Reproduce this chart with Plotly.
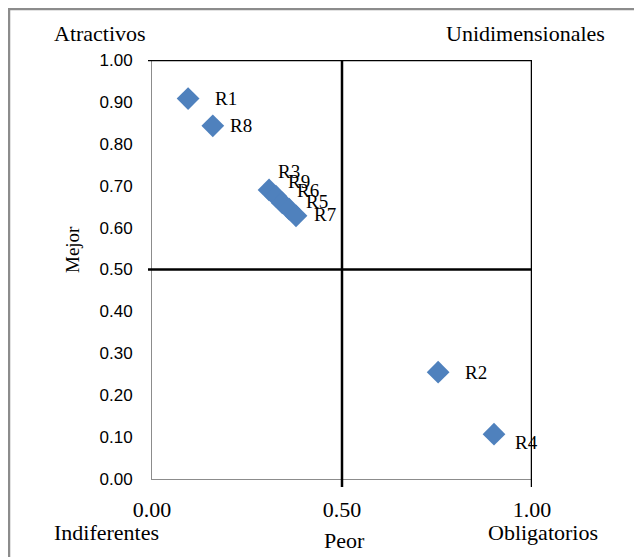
import plotly.graph_objects as go

labels = ["R1", "R8", "R3", "R9", "R6", "R5", "R7", "R2", "R4"]
peor = [0.095, 0.160, 0.308, 0.326, 0.343, 0.361, 0.379, 0.753, 0.900]
mejor = [0.908, 0.843, 0.690, 0.675, 0.659, 0.644, 0.628, 0.255, 0.107]
# label pixel offsets (text left edge relative to marker centre)
lab_dx = [25, 15, 7, 10, 13, 15, 16, 25, 19]
lab_dy = [0, 0, -18, -15, -12, -8, -1, 0, 8]

x_ticks = [0.0, 0.5, 1.0]
x_ticktext = ["0.00", "0.50", "1.00"]
y_ticks = [round(i * 0.1, 1) for i in range(11)]
y_ticktext = ["%.2f" % v for v in y_ticks]

OFF = 8  # page body margin
W, H = 642 - OFF, 557 - OFF
L, R, T, B = 152, 532, 60, 479  # page pixel coordinates of plot area
pw, ph = R - L, B - T

def px(x):
    return (x - L) / pw

def py(y):
    return (B - y) / ph

serif = "Liberation Serif"
fig = go.Figure()
fig.add_trace(go.Scatter(
    x=peor, y=mejor, mode="markers",
    marker=dict(symbol="diamond", size=17.5, color="#4F81BD", line=dict(width=0)),
    hoverinfo="skip", showlegend=False, cliponaxis=False,
))

for lab, xv, yv, dx, dy in zip(labels, peor, mejor, lab_dx, lab_dy):
    fig.add_annotation(x=xv, y=yv, xref="x", yref="y", text=lab, showarrow=False,
                       xanchor="left", yanchor="middle", xshift=dx, yshift=-dy,
                       font=dict(family=serif, size=19, color="black"))

shapes = []
# outer frame
shapes.append(dict(type="rect", xref="paper", yref="paper",
                   x0=px(9), x1=px(700), y0=py(620), y1=py(9),
                   line=dict(color="#8c8c8c", width=2.5), layer="below"))
# quadrant / border black lines
shapes.append(dict(type="line", xref="paper", yref="y", x0=px(148), x1=1, y0=1, y1=1,
                   line=dict(color="black", width=2.5)))
shapes.append(dict(type="line", xref="paper", yref="y", x0=px(148), x1=1, y0=0.5, y1=0.5,
                   line=dict(color="black", width=2.5)))
shapes.append(dict(type="line", xref="x", yref="paper", x0=1, x1=1, y0=py(487), y1=1,
                   line=dict(color="black", width=2.5)))
shapes.append(dict(type="line", xref="x", yref="paper", x0=0.5, x1=0.5, y0=py(487), y1=1,
                   line=dict(color="black", width=2.5)))

texts = [
    ("Atractivos", 100, 33, 0, 22),
    ("Unidimensionales", 525, 33, 0, 22),
    ("Indiferentes", 106, 532, 0, 22),
    ("Obligatorios", 543, 532, 0, 22),
    ("Peor", 344, 540, 0, 22),
    ("Mejor", 72, 250, -90, 19),
]
for t, x, y, ang, fs in texts:
    fig.add_annotation(x=px(x), y=py(y), xref="paper", yref="paper", text=t,
                       showarrow=False, xanchor="center", yanchor="middle",
                       textangle=ang, font=dict(family=serif, size=fs, color="black"))

fig.update_layout(
    width=W, height=H,
    margin=dict(l=L - OFF, r=W - (R - OFF), t=T - OFF, b=H - (B - OFF), pad=0),
    paper_bgcolor="white", plot_bgcolor="white",
    shapes=shapes,
    xaxis=dict(range=[0, 1], tickvals=x_ticks, ticktext=x_ticktext, showgrid=False,
               zeroline=False, showline=True, linecolor="#8c8c8c", linewidth=1,
               ticks="", ticklabelstandoff=11,
               tickfont=dict(family=serif, size=22, color="black"), fixedrange=True),
    yaxis=dict(range=[0, 1], tickvals=y_ticks, ticktext=y_ticktext, showgrid=False,
               zeroline=False, showline=True, linecolor="#8c8c8c", linewidth=1,
               ticks="", ticklabelstandoff=15,
               tickfont=dict(family="Liberation Sans", size=17, color="black"), fixedrange=True),
)

fig.write_html("out.html")
